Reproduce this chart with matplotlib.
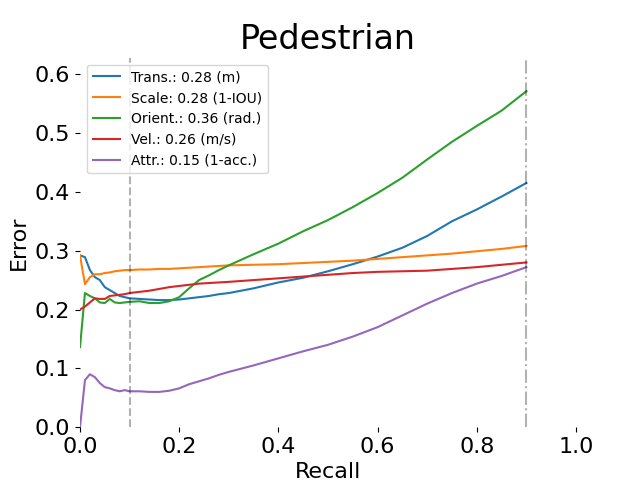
import matplotlib
matplotlib.use('Agg')
import matplotlib.pyplot as plt

# Valeurs
recall = [0.00, 0.01, 0.02, 0.03, 0.04, 0.05, 0.06, 0.07, 0.08, 0.09, 0.10,
          0.12, 0.14, 0.16, 0.18, 0.20, 0.22, 0.24, 0.26, 0.28, 0.30,
          0.35, 0.40, 0.45, 0.50, 0.55, 0.60, 0.65, 0.70, 0.75, 0.80, 0.85, 0.90]

trans_err = [0.292, 0.289, 0.267, 0.255, 0.250, 0.238, 0.233, 0.228, 0.223, 0.221, 0.219,
             0.218, 0.217, 0.216, 0.216, 0.217, 0.219, 0.221, 0.223, 0.226, 0.228,
             0.236, 0.246, 0.254, 0.265, 0.277, 0.290, 0.305, 0.325, 0.350, 0.370, 0.392, 0.415]

scale_err = [0.292, 0.243, 0.255, 0.260, 0.260, 0.262, 0.263, 0.265, 0.266, 0.267, 0.267,
             0.268, 0.268, 0.269, 0.269, 0.270, 0.271, 0.272, 0.273, 0.274, 0.275,
             0.276, 0.277, 0.279, 0.281, 0.283, 0.286, 0.289, 0.292, 0.295, 0.299, 0.303, 0.308]

orient_err = [0.136, 0.228, 0.223, 0.219, 0.212, 0.211, 0.218, 0.212, 0.211, 0.212, 0.213,
              0.214, 0.211, 0.211, 0.214, 0.221, 0.236, 0.250, 0.258, 0.267, 0.275,
              0.294, 0.312, 0.333, 0.352, 0.374, 0.398, 0.424, 0.455, 0.485, 0.512, 0.538, 0.571]

vel_err = [0.200, 0.205, 0.212, 0.219, 0.218, 0.218, 0.223, 0.224, 0.225, 0.226, 0.228,
           0.230, 0.232, 0.235, 0.238, 0.240, 0.242, 0.244, 0.245, 0.246, 0.247,
           0.250, 0.253, 0.256, 0.259, 0.262, 0.264, 0.265, 0.266, 0.269, 0.272, 0.276, 0.280]

attr_err = [0.000, 0.080, 0.090, 0.085, 0.075, 0.068, 0.066, 0.063, 0.061, 0.063, 0.061,
            0.061, 0.060, 0.060, 0.062, 0.066, 0.073, 0.078, 0.083, 0.089, 0.094,
            0.105, 0.117, 0.129, 0.140, 0.154, 0.170, 0.190, 0.210, 0.228, 0.244, 0.257, 0.272]

labels = ['Trans.: 0.28 (m)', 'Scale: 0.28 (1-IOU)', 'Orient.: 0.36 (rad.)',
          'Vel.: 0.26 (m/s)', 'Attr.: 0.15 (1-acc.)']

min_recall = 0.1
max_recall = 0.9

fig, ax = plt.subplots(figsize=(6.4, 4.8), dpi=100)

series = [trans_err, scale_err, orient_err, vel_err, attr_err]
for err, lab in zip(series, labels):
    ax.plot(recall, err, label=lab)

max_val = max(max(s) for s in series)
ax.set_xlim(0, 1)
ax.set_ylim(0, max_val * 1.1)

ax.axvline(x=max_recall, linestyle='-.', color=(0, 0, 0, 0.3))
ax.axvline(x=min_recall, linestyle='--', color=(0, 0, 0, 0.3))

ax.set_title('Pedestrian', size=24)
ax.set_xlabel('Recall', size=16)
ax.set_ylabel('Error', size=16)
ax.tick_params(labelsize=16)
for spine in ax.spines.values():
    spine.set_visible(False)

ax.legend(loc='upper left')

fig.savefig('out.png')
